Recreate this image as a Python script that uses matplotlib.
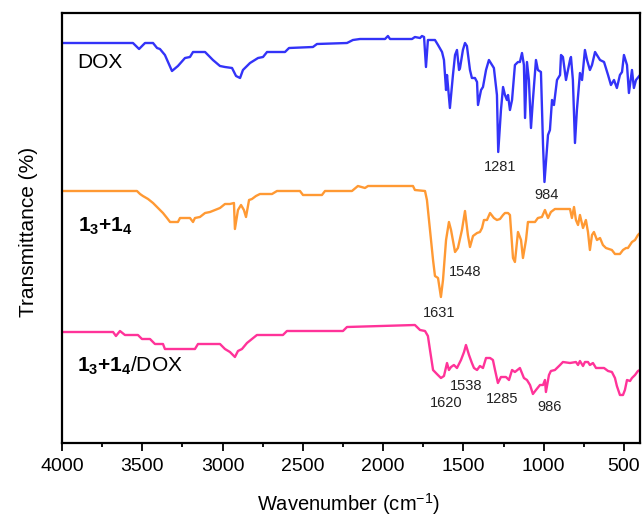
import matplotlib
matplotlib.use("Agg")
import matplotlib.pyplot as plt
from matplotlib.ticker import MultipleLocator

plt.rcParams['font.family'] = ['Liberation Sans', 'DejaVu Sans']
plt.rcParams['mathtext.fontset'] = 'custom'
plt.rcParams['mathtext.rm'] = 'Liberation Sans'
plt.rcParams['mathtext.it'] = 'Liberation Sans:italic'
plt.rcParams['mathtext.bf'] = 'Liberation Sans:bold'

# ---- DOX spectrum (wavenumber, offset transmittance, arbitrary units) ----
dox_wn = [4000, 3558, 3520, 3483, 3433, 3408, 3390, 3359, 3315, 3278,
          3234, 3203, 3184, 3109, 3060, 3016, 2985, 2941, 2916, 2891,
          2873, 2829, 2779, 2748, 2723, 2611, 2586, 2437, 2412, 2225,
          2188, 2144, 1988, 1970, 1957, 1820, 1802, 1770, 1758, 1745,
          1733, 1721, 1677, 1658, 1633, 1621, 1608, 1602, 1584, 1565,
          1552, 1540, 1527, 1521, 1503, 1490, 1478, 1459, 1447, 1428,
          1415, 1409, 1390, 1378, 1359, 1341, 1322, 1310, 1291, 1283,
          1266, 1253, 1241, 1229, 1222, 1210, 1197, 1179, 1160, 1148,
          1135, 1123, 1116, 1104, 1092, 1079, 1067, 1048, 1036, 1017,
          1004, 995, 973, 961, 948, 936, 917, 898, 892, 880,
          861, 836, 830, 818, 805, 793, 774, 761, 743, 730,
          712, 699, 680, 649, 624, 599, 581, 562, 544, 525,
          512, 500, 481, 469, 450, 438, 425, 400]
dox_t = [410, 410, 404, 410, 410, 405, 404, 398, 382, 387,
         395, 396, 401, 401, 393, 387, 386, 385, 377, 375,
         383, 390, 395, 396, 401, 401, 405, 406, 409, 410,
         413, 414, 414, 417, 414, 414, 416, 415, 417, 416,
         386, 413, 413, 408, 401, 393, 363, 378, 345, 378,
         398, 403, 383, 385, 403, 410, 407, 383, 375, 375,
         371, 348, 363, 366, 383, 393, 388, 385, 358, 301,
         343, 366, 358, 353, 358, 343, 353, 388, 391, 391,
         400, 388, 335, 391, 373, 325, 353, 393, 383, 381,
         308, 271, 318, 323, 353, 348, 373, 378, 398, 396,
         373, 393, 396, 373, 310, 343, 380, 373, 403, 393,
         383, 388, 401, 393, 391, 378, 368, 373, 365, 378,
         381, 398, 388, 360, 383, 365, 373, 378]

# ---- 1_3 + 1_4 spectrum ----
mix_wn = [4000, 3533, 3514, 3496, 3464, 3433, 3402, 3371, 3346, 3327,
          3278, 3265, 3203, 3184, 3172, 3141, 3109, 3078, 3047, 3016,
          2985, 2954, 2929, 2923, 2904, 2885, 2867, 2854, 2835, 2817,
          2792, 2767, 2692, 2661, 2518, 2499, 2381, 2362, 2194, 2157,
          2113, 2094, 1814, 1802, 1739, 1727, 1708, 1689, 1677, 1658,
          1640, 1627, 1608, 1590, 1577, 1552, 1534, 1509, 1490, 1472,
          1459, 1440, 1415, 1397, 1384, 1372, 1353, 1334, 1310, 1291,
          1272, 1253, 1241, 1222, 1210, 1191, 1179, 1160, 1141, 1129,
          1110, 1098, 1079, 1054, 1036, 1011, 992, 973, 955, 930,
          836, 824, 811, 799, 786, 774, 755, 737, 724, 712,
          699, 687, 668, 649, 631, 612, 575, 556, 525, 506,
          487, 475, 450, 431, 413, 400]
mix_t = [262, 262, 259, 257, 254, 250, 245, 240, 235, 231,
         231, 235, 235, 231, 235, 236, 240, 241, 243, 245,
         249, 249, 250, 224, 243, 248, 243, 236, 253, 254,
         257, 259, 259, 262, 262, 258, 258, 262, 262, 267,
         265, 267, 267, 263, 262, 253, 223, 193, 177, 175,
         156, 173, 213, 231, 223, 201, 205, 223, 242, 218,
         206, 217, 220, 221, 225, 233, 233, 240, 235, 233,
         234, 238, 240, 240, 238, 195, 191, 221, 213, 195,
         213, 231, 231, 231, 235, 236, 243, 235, 241, 244,
         244, 235, 246, 233, 228, 238, 225, 233, 221, 203,
         218, 221, 213, 215, 208, 205, 203, 199, 199, 203,
         205, 205, 211, 213, 218, 220]

# ---- 1_3 + 1_4 / DOX spectrum ----
load_wn = [4000, 3682, 3664, 3639, 3608, 3527, 3502, 3452, 3421, 3371,
           3359, 3172, 3153, 3016, 2985, 2954, 2923, 2904, 2879, 2848,
           2817, 2786, 2624, 2599, 2250, 2225, 1802, 1770, 1739, 1721,
           1708, 1689, 1665, 1640, 1621, 1602, 1590, 1577, 1559, 1540,
           1515, 1496, 1484, 1465, 1447, 1434, 1415, 1397, 1378, 1359,
           1334, 1316, 1303, 1285, 1266, 1235, 1216, 1197, 1179, 1148,
           1123, 1104, 1085, 1067, 1048, 1023, 1004, 992, 986, 967,
           955, 930, 898, 880, 836, 799, 786, 774, 755, 743,
           724, 712, 693, 674, 624, 599, 575, 556, 544, 525,
           506, 494, 481, 462, 450, 431, 413, 400]
load_t = [121, 121, 117, 122, 118, 118, 114, 114, 109, 109,
          104, 104, 109, 109, 104, 101, 96, 102, 104, 110,
          114, 118, 118, 122, 122, 126, 128, 123, 122, 117,
          103, 83, 79, 75, 77, 90, 83, 86, 88, 85,
          93, 101, 108, 98, 90, 85, 83, 87, 85, 95,
          95, 93, 83, 70, 76, 76, 73, 83, 81, 85,
          75, 73, 68, 59, 63, 68, 68, 73, 61, 78,
          82, 83, 88, 91, 90, 91, 88, 92, 87, 91,
          91, 88, 90, 85, 85, 82, 81, 75, 67, 58,
          58, 63, 73, 72, 75, 78, 82, 83]

# ---- peak annotations ----
peak_labels = ['1281', '984', '1548', '1631', '1538', '1620', '1285', '986']
peak_wn = [1272, 980, 1490, 1652, 1484, 1608, 1260, 961]
peak_t = [286, 258, 181, 140, 67, 50, 54, 46]

# ---- curve names ----
curve_names = ['DOX', r'$\mathbf{1_3{+}1_4}$', r'$\mathbf{1_3{+}1_4}$/DOX']
curve_colors = ['#3333f8', '#ff9933', '#ff3399']
name_wn = [3907, 3900, 3905]
name_t = [390, 227, 87]

xticks = [4000, 3500, 3000, 2500, 2000, 1500, 1000, 500]

fig = plt.figure(figsize=(6.42, 5.19), dpi=100)
ax = fig.add_axes([62 / 642, 76 / 519, 578 / 642, 430 / 519])

for wn, t, c in zip([dox_wn, mix_wn, load_wn], [dox_t, mix_t, load_t], curve_colors):
    ax.plot(wn, t, color=c, lw=1.7, solid_joinstyle='round')

for lab, w, t in zip(peak_labels, peak_wn, peak_t):
    ax.text(w, t, lab, ha='center', va='center', fontsize=10.5, color='#222222')

for name, w, t in zip(curve_names, name_wn, name_t):
    ax.text(w, t, name, ha='left', va='center', fontsize=15, color='black')

ax.set_xlim(4000, 400)
ax.set_ylim(10, 440)
ax.set_xticks(xticks)
ax.set_xticklabels([str(v) for v in xticks])
ax.xaxis.set_minor_locator(MultipleLocator(250))
ax.set_yticks([])

ax.tick_params(axis='x', which='major', direction='out', length=6, width=1.3,
               labelsize=14, pad=4.5)
ax.tick_params(axis='x', which='minor', direction='out', length=3, width=1.3)
for s in ax.spines.values():
    s.set_linewidth(1.6)

ax.set_xlabel('Wavenumber (cm$^{-1}$)', fontsize=14.5)
ax.set_ylabel('Transmittance (%)', fontsize=15)
ax.xaxis.set_label_coords(0.4965, -0.112)
ax.yaxis.set_label_coords(-0.042, 0.49)

fig.savefig('out.png', dpi=100)
